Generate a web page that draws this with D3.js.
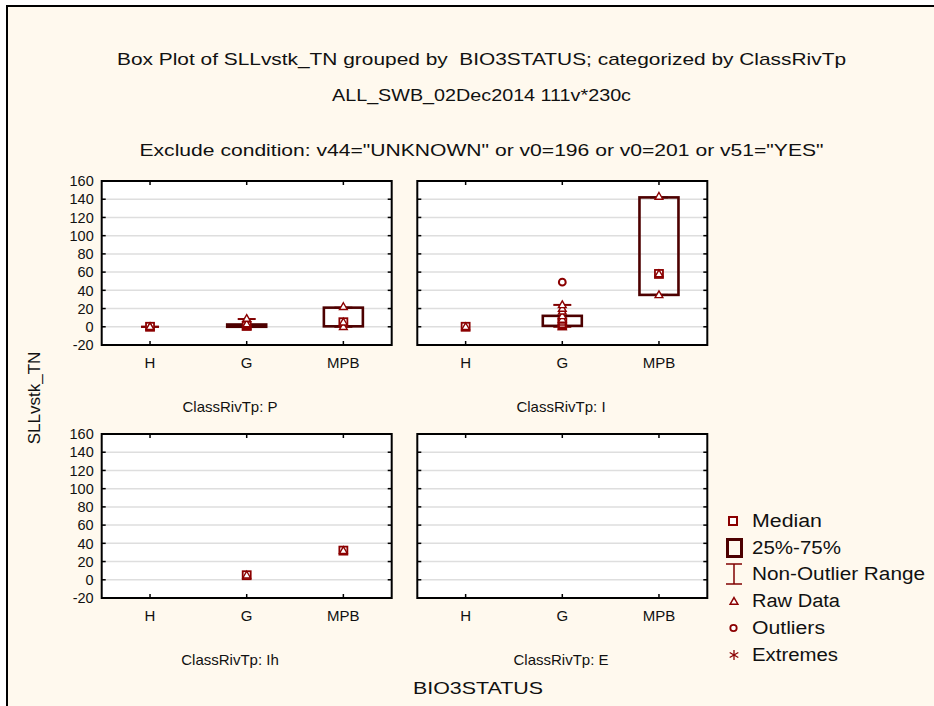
<!DOCTYPE html>
<html><head><meta charset="utf-8">
<script src="https://cdn.jsdelivr.net/npm/d3@7"></script>
<style>
html,body{margin:0;padding:0;background:#ffffff;}
svg{display:block;}
text{font-family:"Liberation Sans",Arial,sans-serif;fill:#111;}
</style></head>
<body>
<svg id="chart" width="934" height="706"></svg>
<script>
// ---------------- data ----------------
const categories = ["H", "G", "MPB"];
const yTicks = [-20, 0, 20, 40, 60, 80, 100, 120, 140, 160];
const panelNames = ["P", "I", "Ih", "E"];
// box statistics per category: [min, q1, median, q3, max]  (null = no data)
const statsP  = [[0, 0, 0, 0, 0], [0, 0, 1, 2.5, 8.5], [0, 0.5, 5, 21, 21]];
const statsI  = [[0, 0, 0, 0, 0], [0, 1, 5, 12, 24], [35, 35, 58, 142, 142]];
const statsIh = [null, [5, 5, 5, 5, 5], [32, 32, 32, 32, 32]];
const statsE  = [null, null, null];
// raw data points per category
const rawP  = [[0, 0], [0, 0, 1, 2, 3, 9], [0, 5, 22]];
const rawI  = [[0], [0, 0, 1, 2, 4, 6, 8, 12, 17, 20, 24], [35, 58, 143]];
const rawIh = [[], [5], [32]];
const rawE  = [[], [], []];
// outliers per category
const outP  = [[], [], []];
const outI  = [[], [49], []];
const outIh = [[], [], []];
const outE  = [[], [], []];
const legendLabels = ["Median", "25%-75%", "Non-Outlier Range", "Raw Data", "Outliers", "Extremes"];
const titleLines = [
  "Box Plot of SLLvstk_TN grouped by  BIO3STATUS; categorized by ClassRivTp",
  "ALL_SWB_02Dec2014 111v*230c",
  "Exclude condition: v44=\"UNKNOWN\" or v0=196 or v0=201 or v51=\"YES\""
];

// ---------------- drawing ----------------
const svg = d3.select("#chart");
const BG = "#fff9ee";
const BOXC = "#4d0000", WHC = "#800000", MKC = "#8b0000";

// frame
svg.append("rect").attr("x", 7).attr("y", 6).attr("width", 940).attr("height", 710).attr("fill", BG);
svg.append("line").attr("x1", 7).attr("x2", 934).attr("y1", 6).attr("y2", 6).attr("stroke", "#000").attr("stroke-width", 2);
svg.append("line").attr("x1", 7).attr("x2", 7).attr("y1", 5).attr("y2", 706).attr("stroke", "#000").attr("stroke-width", 2);

// titles
const titleY = [65, 101, 156];
const titleLen = [729, 299, 684];
titleLines.forEach((t, i) => {
  svg.append("text").attr("x", 481.5).attr("y", titleY[i]).attr("text-anchor", "middle")
    .style("font-size", "17px").style("white-space", "pre")
    .attr("textLength", titleLen[i]).attr("lengthAdjust", "spacingAndGlyphs").text(t);
});

const PW = 290, PH = 164;
const panelPos = [[101.7, 181], [417.3, 181], [101.7, 434], [417.3, 434]];
const panelLabelX = [230, 561, 230, 561];
const allStats = [statsP, statsI, statsIh, statsE];
const allRaw = [rawP, rawI, rawIh, rawE];
const allOut = [outP, outI, outIh, outE];

const x = d3.scalePoint().domain(categories).range([0, PW]).padding(0.5);
const y = d3.scaleLinear().domain([yTicks[0], yTicks[yTicks.length - 1]]).range([PH, 0]);

const tri = d3.symbol().type(d3.symbolTriangle).size(26);

panelNames.forEach((name, pi) => {
  const [px, py] = panelPos[pi];
  const g = svg.append("g").attr("transform", `translate(${px},${py})`);
  g.append("rect").attr("width", PW).attr("height", PH).attr("fill", "#fff");
  // grid
  g.selectAll(".grid").data(yTicks.slice(1, -1)).join("line")
    .attr("x1", 0).attr("x2", PW).attr("y1", d => y(d)).attr("y2", d => y(d))
    .attr("stroke", "#dedede").attr("stroke-width", 1.5);
  // ticks (inside)
  const tk = g.append("g").attr("stroke", "#000").attr("stroke-width", 1.5);
  yTicks.forEach(v => {
    tk.append("line").attr("x1", 0).attr("x2", 4).attr("y1", y(v)).attr("y2", y(v));
    tk.append("line").attr("x1", PW - 4).attr("x2", PW).attr("y1", y(v)).attr("y2", y(v));
  });
  categories.forEach(c => {
    tk.append("line").attr("x1", x(c)).attr("x2", x(c)).attr("y1", 0).attr("y2", 4);
    tk.append("line").attr("x1", x(c)).attr("x2", x(c)).attr("y1", PH - 4).attr("y2", PH);
  });
  // y labels on left column
  if (pi % 2 === 0) {
    g.selectAll(".yl").data(yTicks).join("text")
      .attr("x", -8).attr("y", d => y(d)).attr("dy", "0.36em").attr("text-anchor", "end")
      .style("font-size", "14.5px").text(d => d);
  }
  // category labels
  g.selectAll(".xl").data(categories).join("text")
    .attr("x", d => x(d)).attr("y", PH + 18).attr("dy", "0.36em").attr("text-anchor", "middle")
    .style("font-size", "15px").text(d => d);
  // panel label
  svg.append("text").attr("x", panelLabelX[pi]).attr("y", py + 226).attr("dy", "0.36em")
    .attr("text-anchor", "middle").style("font-size", "15px").text("ClassRivTp: " + name);

  // boxes
  categories.forEach((c, ci) => {
    const s = allStats[pi][ci];
    const raw = allRaw[pi][ci];
    const cx = x(c);
    if (s) {
      const [mn, q1, md, q3, mx] = s;
      if (raw.length > 1) {
        g.append("line").attr("x1", cx).attr("x2", cx).attr("y1", y(mx)).attr("y2", y(q3)).attr("stroke", WHC).attr("stroke-width", 2);
        g.append("line").attr("x1", cx).attr("x2", cx).attr("y1", y(q1)).attr("y2", y(mn)).attr("stroke", WHC).attr("stroke-width", 2);
        [mn, mx].forEach(v => g.append("line").attr("x1", cx - 9).attr("x2", cx + 9)
          .attr("y1", y(v)).attr("y2", y(v)).attr("stroke", WHC).attr("stroke-width", 2));
      }
      if (q3 > q1) {
        g.append("rect").attr("x", cx - 19.5).attr("width", 39).attr("y", y(q3)).attr("height", y(q1) - y(q3))
          .attr("fill", "none").attr("stroke", BOXC).attr("stroke-width", 2.6);
      }
      // median
      g.append("rect").attr("x", cx - 4).attr("y", y(md) - 4).attr("width", 8).attr("height", 8)
        .attr("fill", "#fff").attr("stroke", MKC).attr("stroke-width", 1.8);
    }
    raw.forEach(v => {
      g.append("path").attr("d", tri).attr("transform", `translate(${cx},${y(v) + 0.5})`)
        .attr("fill", "#fff").attr("stroke", MKC).attr("stroke-width", 1.4);
    });
    allOut[pi][ci].forEach(v => {
      g.append("circle").attr("cx", cx).attr("cy", y(v)).attr("r", 3.4)
        .attr("fill", "#fff").attr("stroke", MKC).attr("stroke-width", 2);
    });
  });
  g.append("rect").attr("width", PW).attr("height", PH).attr("fill", "none").attr("stroke", "#000").attr("stroke-width", 2);
});

// axis titles
svg.append("text").attr("transform", "translate(34,398) rotate(-90)").attr("text-anchor", "middle")
  .attr("dy", "0.36em").style("font-size", "17px").text("SLLvstk_TN");
svg.append("text").attr("x", 478).attr("y", 688).attr("dy", "0.36em").attr("text-anchor", "middle")
  .style("font-size", "17px").attr("textLength", 130).attr("lengthAdjust", "spacingAndGlyphs").text("BIO3STATUS");

// legend
const legY = [521, 548, 574, 601, 628, 655];
const legLen = [70, 89, 173, 88, 73, 86];
const lg = svg.append("g");
legendLabels.forEach((t, i) => {
  lg.append("text").attr("x", 752).attr("y", legY[i]).attr("dy", "0.36em")
    .style("font-size", "18px").attr("textLength", legLen[i]).attr("lengthAdjust", "spacingAndGlyphs").text(t);
});
// symbols
lg.append("rect").attr("x", 729).attr("y", legY[0] - 4).attr("width", 8).attr("height", 8)
  .attr("fill", "#fff").attr("stroke", MKC).attr("stroke-width", 2);
lg.append("rect").attr("x", 727.5).attr("y", legY[1] - 8.5).attr("width", 14).attr("height", 17)
  .attr("fill", "none").attr("stroke", BOXC).attr("stroke-width", 3);
lg.append("line").attr("x1", 734).attr("x2", 734).attr("y1", legY[2] - 10).attr("y2", legY[2] + 10).attr("stroke", WHC).attr("stroke-width", 1.5);
lg.append("line").attr("x1", 726).attr("x2", 742).attr("y1", legY[2] - 10).attr("y2", legY[2] - 10).attr("stroke", WHC).attr("stroke-width", 1.5);
lg.append("line").attr("x1", 726).attr("x2", 742).attr("y1", legY[2] + 10).attr("y2", legY[2] + 10).attr("stroke", WHC).attr("stroke-width", 1.5);
lg.append("path").attr("d", tri).attr("transform", `translate(734,${legY[3] + 1})`)
  .attr("fill", "#fff").attr("stroke", MKC).attr("stroke-width", 1.5);
lg.append("circle").attr("cx", 733.5).attr("cy", legY[4]).attr("r", 3.2)
  .attr("fill", "#fff").attr("stroke", MKC).attr("stroke-width", 1.8);
const ast = lg.append("g").attr("transform", `translate(734,${legY[5]})`).attr("stroke", MKC).attr("stroke-width", 1.3);
ast.append("line").attr("x1", 0).attr("x2", 0).attr("y1", -5).attr("y2", 5);
ast.append("line").attr("x1", -4.3).attr("x2", 4.3).attr("y1", -2.5).attr("y2", 2.5);
ast.append("line").attr("x1", -4.3).attr("x2", 4.3).attr("y1", 2.5).attr("y2", -2.5);
</script>
</body></html>
